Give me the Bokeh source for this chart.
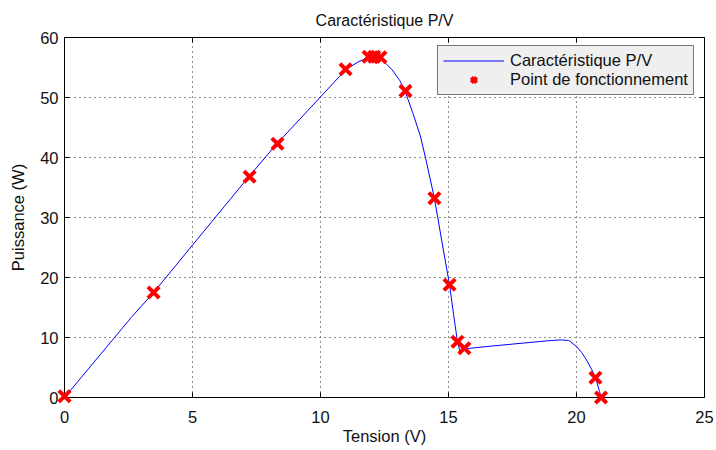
import math
from bokeh.plotting import figure
from bokeh.models import Range1d, FixedTicker, Legend, LegendItem
from bokeh.embed import file_html
from bokeh.resources import INLINE

# Courbe P/V
curve_v = [0.0, 2.6, 3.5, 5.0, 7.2, 8.3, 9.5, 10.5, 11.0, 11.5, 11.9, 12.1, 12.35,
           12.5, 12.8, 13.1, 13.3, 13.6, 13.9, 14.1, 14.45, 14.75, 15.04, 15.2, 15.35,
           15.44, 15.62, 16.5, 17.5, 18.5, 19.0, 19.4, 19.7, 20.0, 20.2, 20.4, 20.6,
           20.75, 20.9, 20.97]
curve_p = [0.0, 13.3, 17.6, 25.4, 36.8, 42.3, 47.8, 52.4, 54.7, 56.0, 56.7, 56.8, 56.6,
           55.9, 54.6, 52.8, 51.1, 47.5, 43.6, 40.0, 33.2, 25.8, 18.8, 13.8, 9.3,
           7.8, 8.1, 8.5, 8.9, 9.3, 9.5, 9.6, 9.5, 8.5, 7.5, 6.2, 4.6,
           3.2, 1.0, 0.0]

# Points de fonctionnement
op_v = [0.0, 3.48, 7.23, 8.32, 10.98, 11.88, 12.1, 12.34, 13.32, 14.45, 15.04, 15.35, 15.62, 20.74, 20.96]
op_p = [0.2, 17.5, 36.8, 42.3, 54.7, 56.8, 56.8, 56.7, 51.1, 33.2, 18.8, 9.3, 8.2, 3.3, 0.0]

x_ticks = [0, 5, 10, 15, 20, 25]
y_ticks = [0, 10, 20, 30, 40, 50, 60]
X_MIN, X_MAX = 0, 25
Y_MIN, Y_MAX = 0, 60
TITLE = "Caractéristique P/V"

FONT = "Liberation Sans"
TXT = "#111111"

p = figure(width=716, height=450, output_backend="svg", toolbar_location=None,
           x_range=Range1d(X_MIN, X_MAX), y_range=Range1d(Y_MIN, Y_MAX),
           min_border_left=64, min_border_right=12, min_border_top=37, min_border_bottom=53)

p.title.text = TITLE
p.title.align = "center"
p.title.vertical_align = "top"
p.title.text_font = FONT
p.title.text_font_style = "normal"
p.title.text_font_size = "16px"
p.title.text_color = TXT
p.title.standoff = 13

p.outline_line_color = "black"
p.outline_line_width = 1
p.background_fill_color = "white"
p.border_fill_color = "white"

for ax, lab, ticks in ((p.xaxis[0], "Tension (V)", x_ticks), (p.yaxis[0], "Puissance (W)", y_ticks)):
    ax.axis_label = lab
    ax.ticker = FixedTicker(ticks=ticks)
    ax.axis_label_text_font = FONT
    ax.axis_label_text_font_style = "normal"
    ax.axis_label_text_font_size = "16.5px"
    ax.axis_label_text_color = TXT
    ax.major_label_text_font = FONT
    ax.major_label_text_font_size = "16.5px"
    ax.major_label_text_color = TXT
    ax.major_tick_in = 5
    ax.major_tick_out = 0
    ax.minor_tick_line_color = None
    ax.axis_line_color = "black"
    ax.major_tick_line_color = "black"
p.xaxis[0].major_label_standoff = 13
p.xaxis[0].axis_label_standoff = 1
p.yaxis[0].major_label_standoff = 6
p.yaxis[0].axis_label_standoff = 10

p.grid.grid_line_color = "#222222"
p.grid.grid_line_dash = "1 4"
p.grid.grid_line_width = 1
p.xgrid.ticker = FixedTicker(ticks=x_ticks)
p.ygrid.ticker = FixedTicker(ticks=y_ticks)

# inward ticks on the top and right edges of the box
p.scatter(x_ticks, [Y_MAX] * len(x_ticks), marker="dash", angle=math.pi / 2, size=10,
          line_color="black", line_width=1)
p.scatter([X_MAX] * len(y_ticks), y_ticks, marker="dash", size=10,
          line_color="black", line_width=1)

r_line = p.line(curve_v, curve_p, line_color="#0000FF", line_width=1)
r_pts = p.scatter(op_v, op_p, marker="x", size=16, line_color="#FF0000", line_width=4,
                  level="overlay")

legend = Legend(items=[LegendItem(label="Caractéristique P/V", renderers=[r_line]),
                       LegendItem(label="Point de fonctionnement", renderers=[r_pts])],
                location=(373, 302))
legend.label_text_font = FONT
legend.label_text_font_size = "16.5px"
legend.label_text_color = TXT
legend.glyph_width = 61
legend.glyph_height = 19
legend.label_height = 19
legend.label_standoff = 6
legend.spacing = 0
legend.padding = 5
legend.margin = 0
legend.background_fill_color = "#EFEFEF"
legend.background_fill_alpha = 1
legend.border_line_color = "black"
legend.border_line_width = 1
p.add_layout(legend, "center")

open("out.html", "w").write(file_html(p, INLINE))
